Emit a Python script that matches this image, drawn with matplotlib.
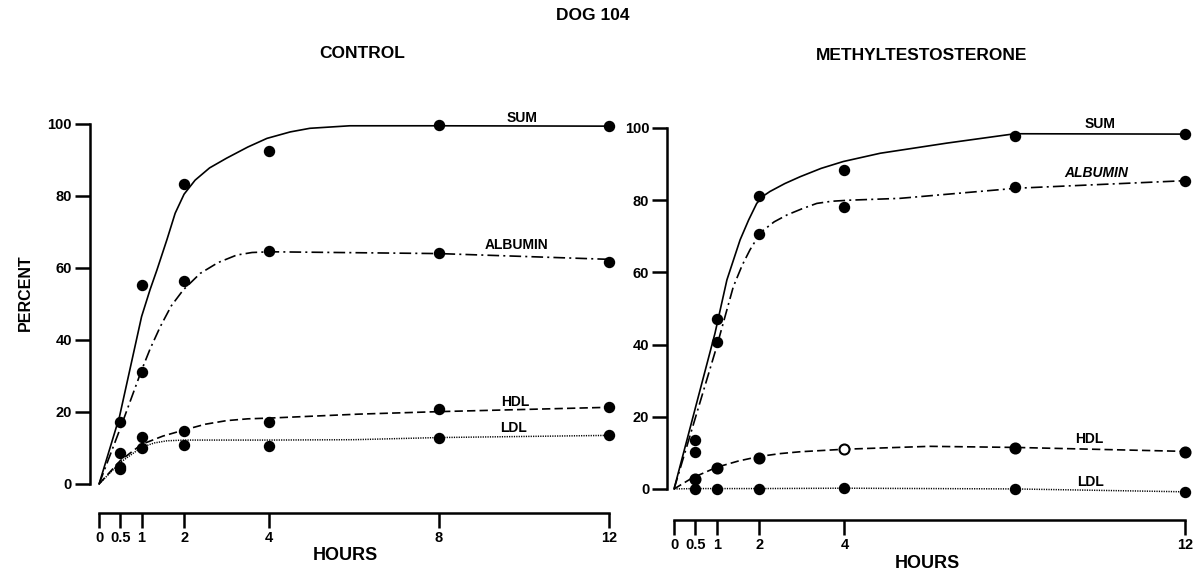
import matplotlib
matplotlib.use("Agg")
import matplotlib.pyplot as plt

plt.rcParams['font.family'] = ['Liberation Sans', 'DejaVu Sans']

# ---------------- data ----------------
hours = [0.5, 1, 2, 4, 8, 12]
hour_ticks = [0, 0.5, 1, 2, 4, 8, 12]
hour_ticks_r = [0, 0.5, 1, 2, 4, 12]
pct_ticks = [0, 20, 40, 60, 80, 100]

# Control: measured points
ctrl_sum = [17.3, 55.3, 83.2, 92.5, 99.7, 99.4]
ctrl_alb = [8.5, 31.2, 56.5, 64.7, 64.1, 61.8]
ctrl_hdl = [4.1, 13.1, 14.7, 17.3, 20.7, 21.3]
ctrl_ldl = [4.8, 10.1, 10.7, 10.5, 12.9, 13.6]

# Control: fitted curves
ctrl_sum_cx = [0, 0.48, 1.0, 1.2, 1.36, 1.6, 1.79, 2.0, 2.26, 2.6, 3.0, 3.5, 3.95, 4.5, 4.96, 5.9, 8, 12]
ctrl_sum_cy = [0, 18.7, 46.5, 54.0, 59.4, 68.0, 75.2, 80.5, 84.4, 87.8, 90.5, 93.6, 96.0, 97.8, 98.8, 99.5, 99.5, 99.4]
ctrl_alb_cx = [0, 0.5, 1.0, 1.2, 1.44, 1.7, 1.98, 2.38, 2.8, 3.24, 3.6, 4.02, 8, 12]
ctrl_alb_cy = [0, 15.5, 31.6, 37.5, 43.7, 49.5, 53.9, 58.5, 61.5, 63.6, 64.3, 64.5, 64.0, 62.4]
ctrl_hdl_cx = [0, 0.5, 1.0, 1.5, 2.0, 2.5, 3.0, 3.5, 4.0, 6.1, 8, 12]
ctrl_hdl_cy = [0, 6.5, 11.0, 13.3, 15.0, 16.6, 17.6, 18.1, 18.3, 19.4, 20.1, 21.3]
ctrl_ldl_cx = [0, 0.5, 1.0, 1.3, 1.6, 2.0, 4.0, 6.0, 8, 12]
ctrl_ldl_cy = [0, 6.0, 10.2, 11.4, 12.0, 12.2, 12.2, 12.3, 12.9, 13.5]

# Methyltestosterone: measured points
mt_hours = [0.5, 1, 2, 4, 8, 12]
mt_sum = [13.6, 47.0, 81.2, 88.4, 97.9, 98.3]
mt_alb = [10.1, 40.8, 70.5, 78.2, 83.6, 85.4]
mt_hdl = [2.7, 5.7, 8.7, 11.0, 11.3, 10.3]
mt_ldl = [0.0, 0.0, 0.0, 0.2, 0.0, -0.8]

# Methyltestosterone: fitted curves
mt_sum_cx = [0, 0.96, 1.24, 1.55, 1.75, 1.94, 2.1, 2.25, 2.6, 2.96, 3.45, 3.97, 4.84, 6.4, 8, 12]
mt_sum_cy = [0, 43.1, 57.9, 69.0, 74.5, 79.1, 81.2, 82.4, 84.6, 86.5, 88.8, 90.7, 93.0, 95.8, 98.4, 98.3]
mt_alb_cx = [0, 1.0, 1.39, 1.6, 1.78, 1.95, 2.1, 2.35, 2.65, 3.0, 3.35, 3.7, 4.13, 5.3, 8.03, 12]
mt_alb_cy = [0, 39.4, 56.0, 62.0, 66.2, 69.5, 71.7, 74.0, 75.9, 77.6, 79.1, 79.7, 80.0, 80.5, 83.3, 85.4]
mt_hdl_cx = [0, 0.42, 1.0, 1.5, 2.0, 2.5, 2.96, 4.0, 6.0, 8, 12]
mt_hdl_cy = [0, 3.0, 6.0, 7.7, 9.0, 9.8, 10.3, 11.0, 11.8, 11.5, 10.4]
mt_ldl_cx = [0, 0.5, 1, 2, 4, 8, 12]
mt_ldl_cy = [0, 0.1, 0.1, 0.1, 0.2, 0.0, -0.8]

# ---------------- figure ----------------
W, H = 1199, 575
fig = plt.figure(figsize=(W / 100, H / 100), dpi=100)

ax1 = fig.add_axes([0.0752, 0.1082, 0.4416, 0.6887])
ax2 = fig.add_axes([0.5565, 0.0957, 0.4410, 0.6943])

lw = 1.2
ms = 7.2
styles = {
    'sum': dict(ls='-', lw=lw),
    'alb': dict(ls=(0, (7, 2.5, 1.2, 2.5)), lw=lw),
    'hdl': dict(ls=(0, (5, 2.5)), lw=lw),
    'ldl': dict(ls=(0, (0.8, 0.8)), lw=lw * 0.9),
}


def setup(ax, ylo, xlo, xt):
    ax.set_xlim(xlo, 12.25)
    ax.set_ylim(ylo, 102)
    for s in ['top', 'right']:
        ax.spines[s].set_visible(False)
    ax.spines['left'].set_bounds(0, 100)
    ax.spines['bottom'].set_bounds(0, 12)
    ax.spines['left'].set_linewidth(1.8)
    ax.spines['bottom'].set_linewidth(1.8)
    ax.set_yticks(pct_ticks)
    ax.set_xticks(xt)
    ax.set_xticklabels([('%g' % v) for v in xt])
    ax.tick_params(axis='y', direction='out', length=11, width=1.8,
                   labelsize=10.5, pad=2)
    ax.tick_params(axis='x', direction='out', length=11, width=1.8,
                   labelsize=10.5, pad=2)
    for lab in ax.get_xticklabels() + ax.get_yticklabels():
        lab.set_fontweight('bold')
    ax.patch.set_alpha(0)


setup(ax1, -8, -0.21, hour_ticks)
setup(ax2, -8.6, -0.16, hour_ticks_r)

# control
ax1.plot(ctrl_sum_cx, ctrl_sum_cy, color='k', **styles['sum'])
ax1.plot(ctrl_alb_cx, ctrl_alb_cy, color='k', **styles['alb'])
ax1.plot(ctrl_hdl_cx, ctrl_hdl_cy, color='k', **styles['hdl'])
ax1.plot(ctrl_ldl_cx, ctrl_ldl_cy, color='k', **styles['ldl'])
for ys in [ctrl_sum, ctrl_alb, ctrl_hdl, ctrl_ldl]:
    ax1.plot(hours, ys, 'o', color='k', ms=ms, ls='none', clip_on=False)

# methyltestosterone
ax2.plot(mt_sum_cx, mt_sum_cy, color='k', **styles['sum'])
ax2.plot(mt_alb_cx, mt_alb_cy, color='k', **styles['alb'])
ax2.plot(mt_hdl_cx, mt_hdl_cy, color='k', **styles['hdl'])
ax2.plot(mt_ldl_cx, mt_ldl_cy, color='k', **styles['ldl'])
for ys in [mt_sum, mt_alb, mt_ldl]:
    ax2.plot(mt_hours, ys, 'o', color='k', ms=ms, ls='none', clip_on=False)
hdl_fill = ['k', 'k', 'k', 'white', 'k', 'k']
for xv, yv, fc in zip(mt_hours, mt_hdl, hdl_fill):
    ax2.plot([xv], [yv], 'o', mfc=fc, mec='k', mew=1.5, ms=ms, clip_on=False)

# curve labels
lab_kw = dict(fontsize=10, fontweight='bold', ha='center', va='center')
ax1.text(9.95, 101.6, 'SUM', **lab_kw)
ax1.text(9.83, 66.4, 'ALBUMIN', **lab_kw)
ax1.text(9.80, 22.9, 'HDL', **lab_kw)
ax1.text(9.76, 15.5, 'LDL', **lab_kw)
ax2.text(10.0, 101.1, 'SUM', **lab_kw)
ax2.text(9.9, 87.6, 'ALBUMIN', style='italic', **lab_kw)
ax2.text(9.75, 13.8, 'HDL', **lab_kw)
ax2.text(9.77, 2.0, 'LDL', **lab_kw)

# axis labels / titles
def ftext(x, y, s, **kw):
    fig.text(x / W, 1 - y / H, s, ha='center', va='center', **kw)

ftext(593, 15, 'DOG 104', fontsize=12.5, fontweight='bold')
ftext(362, 53, 'CONTROL', fontsize=12.5, fontweight='bold')
ftext(922, 55, 'METHYLTESTOSTERONE', fontsize=12.5, fontweight='bold')
ftext(25, 293, 'PERCENT', fontsize=11.5, fontweight='bold', rotation=90)
ftext(345, 556, 'HOURS', fontsize=13, fontweight='bold')
ftext(927, 563, 'HOURS', fontsize=13, fontweight='bold')

fig.savefig('out.png', dpi=100)
